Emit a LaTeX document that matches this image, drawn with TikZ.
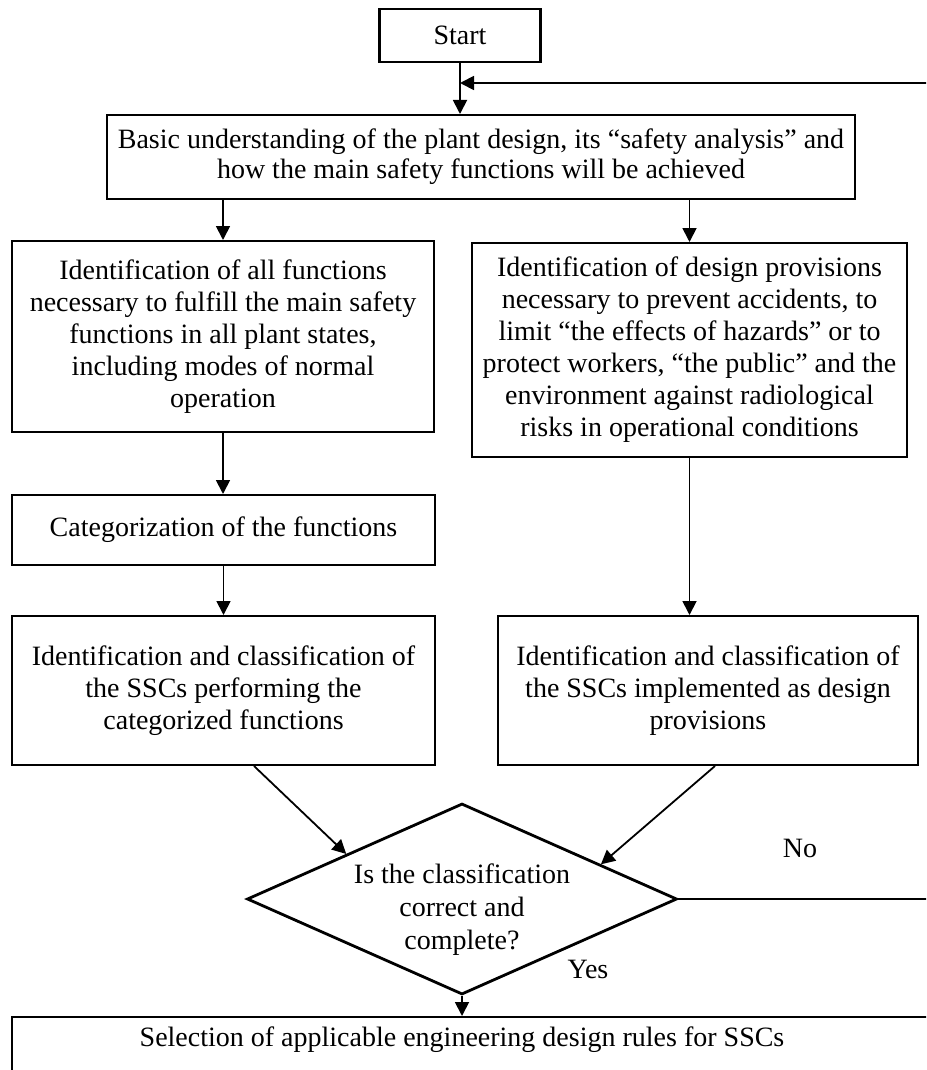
\documentclass[tikz,border=0pt]{standalone}
\usepackage{fontspec}
\setmainfont{Liberation Serif}
\usetikzlibrary{shapes.geometric, arrows.meta, calc}

\begin{document}
\begin{tikzpicture}[x=0.5pt, y=-0.5pt,
  box/.style={draw, line width=1pt, inner sep=2pt, align=center, font=\fontsize{14}{16}\selectfont},
  dia/.style={draw, shape=diamond, line width=1.4pt, inner sep=0pt, minimum width=215pt, minimum height=95.5pt},
  txt/.style={inner sep=0pt, align=center, font=\fontsize{14}{16.5}\selectfont},
  arrow/.style={-{Triangle[length=7pt, width=7pt]}, line width=0.9pt},
]
  \useasboundingbox (0,0) rectangle (926,1070);
  \clip (0,0) rectangle (926,1070);

  % Top
  \node[box, line width=1.4pt, minimum width=80.5pt, minimum height=26.5pt] (start) at (460,35.5) {Start};
  \node[box, font=\fontsize{14}{15}\selectfont, minimum width=374pt, minimum height=42pt] (basic) at (481,157) {Basic understanding of the plant design, its “safety analysis” and\\how the main safety functions will be achieved};

  % Left column - functions
  \node[box, minimum width=211pt, minimum height=95.5pt] (funcs) at (223,336.5) {Identification of all functions\\necessary to fulfill the main safety\\functions in all plant states,\\including modes of normal\\operation};
  \node[box, minimum width=211.5pt, minimum height=35pt] (categ) at (223.5,530) {Categorization of the functions};
  \node[box, minimum width=211.5pt, minimum height=74.5pt] (sscf) at (223.5,690.5) {Identification and classification of\\the SSCs performing the\\categorized functions};

  % Right column - design provisions
  \node[box, minimum width=217.5pt, minimum height=107pt] (provs) at (689.5,350) {Identification of design provisions\\necessary to prevent accidents, to\\limit “the effects of hazards” or to\\protect workers, “the public” and the\\environment against radiological\\risks in operational conditions};
  \node[box, minimum width=210pt, minimum height=74.5pt] (sscp) at (708,690.5) {Identification and classification of\\the SSCs implemented as design\\provisions};

  % Decision and result
  \node[dia] (check) at (462,899) {};
  \node[txt] (checkq) at (462,910) {Is the classification\\correct and\\complete?};
  \node[box, minimum width=464pt, minimum height=36.5pt] (rules) at (476,1053.5) {};
  \node[txt] (rulesq) at (462,1040) {Selection of applicable engineering design rules for SSCs};

  % Labels
  \node[txt] (no) at (800,848) {No};
  \node[txt] (yes) at (588,969) {Yes};

  % Arrows
  \coordinate (join) at (460,83);
  \coordinate (loopb) at (960,899);
  \coordinate (loopt) at (960,83);
  \draw[arrow] (start.south) -- (start.south |- basic.north);
  \draw[arrow] (check.east) -- (loopb) -- (loopt) -- (join);
  \draw[arrow] (basic.south -| funcs.north) -- (funcs.north);
  \draw[arrow] (basic.south -| provs.north) -- (provs.north);
  \draw[arrow] (funcs.south) -- (funcs.south |- categ.north);
  \draw[arrow] (categ.south) -- (categ.south |- sscf.north);
  \draw[arrow] (provs.south) -- (provs.south |- sscp.north);
  \draw[arrow] ($(sscf.south)+(30.5,0)$) -- ($(check.north)!0.535!(check.west)$);
  \draw[arrow] ($(sscp.south)+(7,0)$) -- ($(check.north)!0.642!(check.east)$);
  \draw[arrow] (check.south) -- (check.south |- rules.north);
\end{tikzpicture}
\end{document}
